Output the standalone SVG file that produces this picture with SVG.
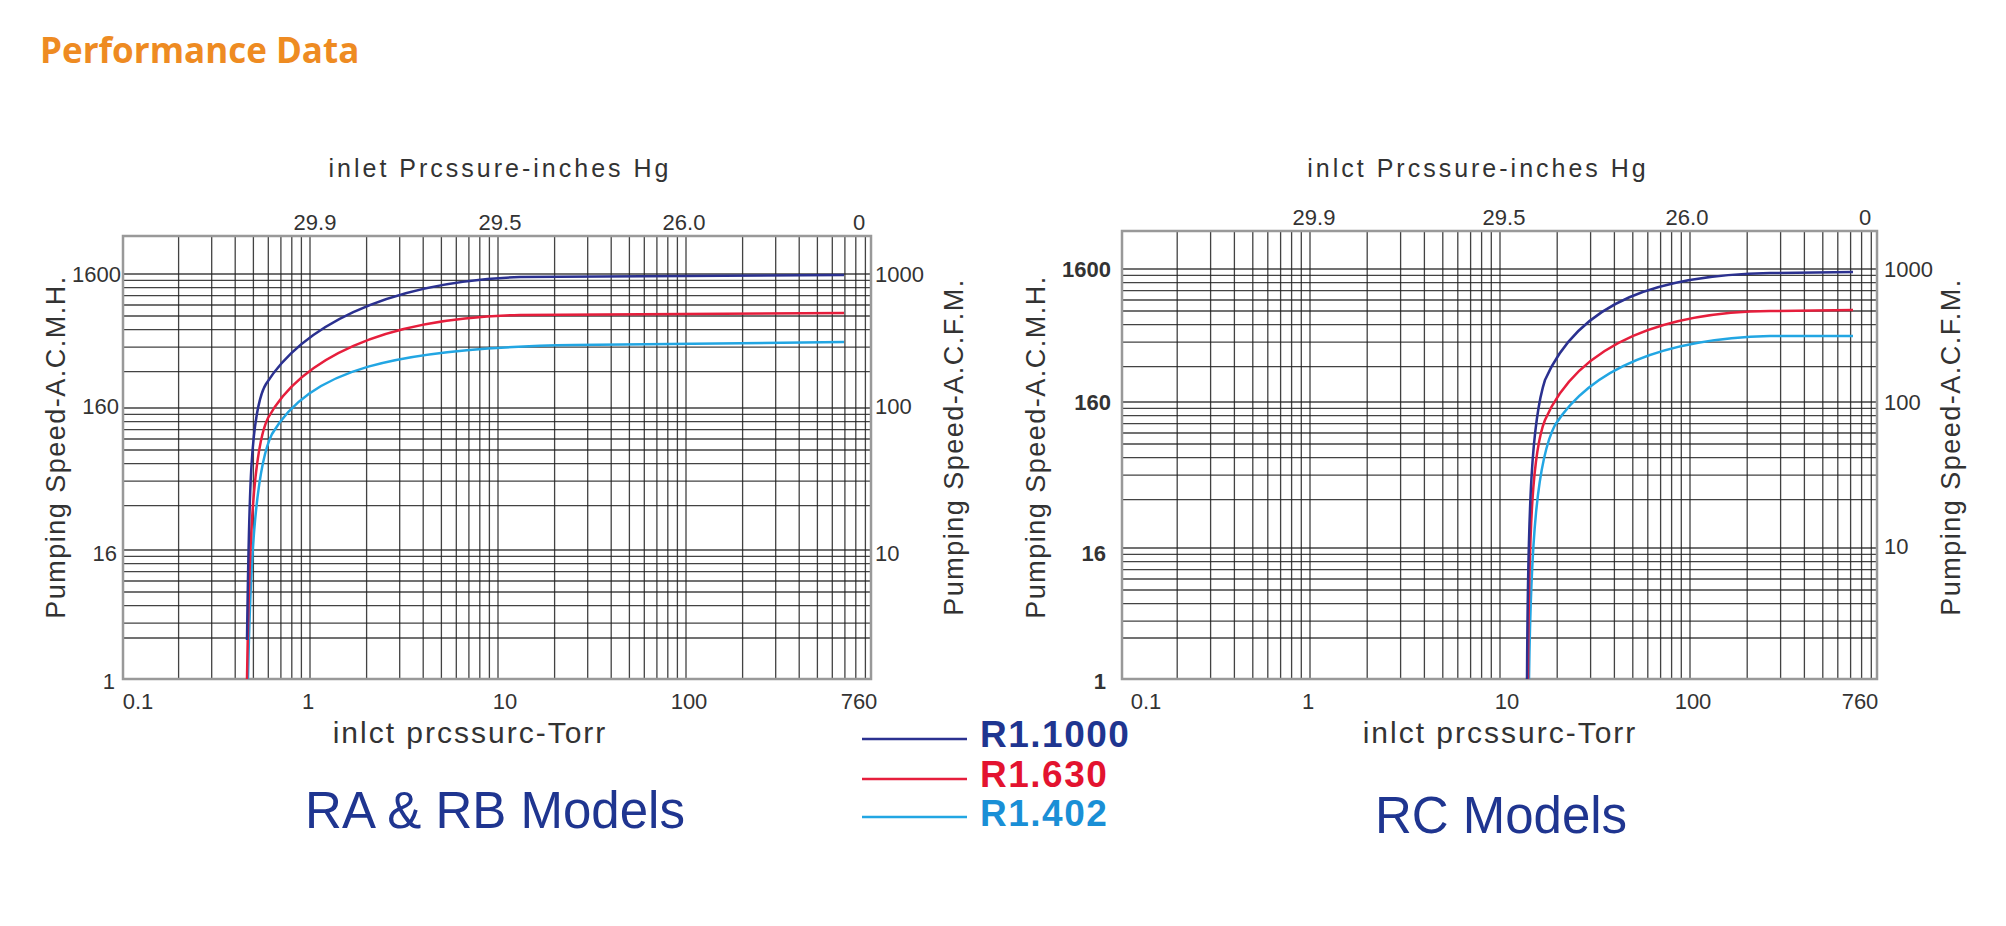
<svg xmlns="http://www.w3.org/2000/svg" width="2006" height="926" viewBox="0 0 2006 926">
<style>
.grid{stroke:#222;stroke-width:1.3;fill:none;opacity:.85}
.frame{fill:none;stroke:#999;stroke-width:2.5}
.num{font-family:"Liberation Sans",Arial,sans-serif;font-size:22px;fill:#333}
.ttl{font-family:"Liberation Sans",Arial,sans-serif;font-size:25px;fill:#333;letter-spacing:3px}
.ax{font-family:"Liberation Sans",Arial,sans-serif;font-size:27px;fill:#333;letter-spacing:1.5px}
.bt{font-family:"Liberation Sans",Arial,sans-serif;font-size:30px;fill:#333;letter-spacing:2px}
.big{font-family:"Liberation Sans",Arial,sans-serif;font-size:51px;fill:#1f3590}
.c1{fill:none;stroke:#2b3190;stroke-width:2.5}
.c2{fill:none;stroke:#e61e3c;stroke-width:2.5}
.c3{fill:none;stroke:#22a6e3;stroke-width:2.5}
.leg{font-family:"Liberation Sans",Arial,sans-serif;font-size:37px;font-weight:bold;letter-spacing:1.5px}
</style>
<rect width="2006" height="926" fill="#fff"/>
<text x="40" y="63" font-family="'Open Sans',sans-serif" font-weight="bold" font-size="35" fill="#ee8b22">Performance Data</text>

<g id="chart-left">
<path class="grid" d="M178.6,236V679M211.7,236V679M235.2,236V679M253.4,236V679M268.3,236V679M280.9,236V679M291.8,236V679M301.4,236V679M310,236V679M366.6,236V679M399.7,236V679M423.2,236V679M441.4,236V679M456.3,236V679M468.9,236V679M479.8,236V679M489.4,236V679M498,236V679M554.6,236V679M587.7,236V679M611.2,236V679M629.4,236V679M644.3,236V679M656.9,236V679M667.8,236V679M677.4,236V679M686,236V679M742.6,236V679M775.7,236V679M799.2,236V679M817.4,236V679M832.3,236V679M844.9,236V679M855.8,236V679M865.4,236V679"/>
<path class="grid" d="M123,274H871M123,280.4H871M123,287.6H871M123,295.7H871M123,305H871M123,316H871M123,329.7H871M123,347.2H871M123,371.6H871M123,408H871M123,414.4H871M123,421.6H871M123,429.7H871M123,439H871M123,450H871M123,463.7H871M123,481.2H871M123,505.6H871M123,550H871M123,556.4H871M123,563.6H871M123,571.7H871M123,581H871M123,592H871M123,605.7H871M123,623.2H871M123,638H871"/>
<rect class="frame" x="123" y="236" width="748" height="443"/>
<text class="ttl" x="500" y="177" text-anchor="middle">inlet  Prcssure-inches Hg</text>
<g class="num" text-anchor="middle">
<text x="315" y="230">29.9</text><text x="500" y="230">29.5</text><text x="684" y="230">26.0</text><text x="859" y="230">0</text>
<text x="138" y="709">0.1</text><text x="308" y="709">1</text><text x="505" y="709">10</text><text x="689" y="709">100</text><text x="859" y="709">760</text>
</g>
<g class="num" text-anchor="end">
<text x="121" y="282">1600</text><text x="119" y="414">160</text><text x="117" y="561">16</text><text x="115" y="689">1</text>
</g>
<g class="num">
<text x="875" y="282">1000</text><text x="875" y="414">100</text><text x="875" y="561">10</text>
</g>
<text class="ax" transform="translate(65,447) rotate(-90)" text-anchor="middle">Pumping Speed-A.C.M.H.</text>
<text class="ax" transform="translate(963,447) rotate(-90)" text-anchor="middle">Pumping Speed-A.C.F.M.</text>
<text class="bt" x="470" y="743" text-anchor="middle">inlct prcssurc-Torr</text>
<text class="big" x="495" y="828" text-anchor="middle">RA &amp; RB Models</text>
<path class="c3" d="M248,679 C250,580 254,470 272,434 C310,370 390,348 574,345 L844,342"/>
<path class="c2" d="M247,679 C249,560 252,450 268,418 C300,360 380,318 520,315 L844,313"/>
<path class="c1" d="M247,640 C249,500 250,410 266,384 C300,330 380,282 520,277 L844,275"/>
</g>

<g id="chart-right">
<path class="grid" d="M1177.2,231V679M1210.6,231V679M1234.4,231V679M1252.8,231V679M1267.8,231V679M1280.6,231V679M1291.6,231V679M1301.3,231V679M1310,231V679M1367.2,231V679M1400.6,231V679M1424.4,231V679M1442.8,231V679M1457.8,231V679M1470.6,231V679M1481.6,231V679M1491.3,231V679M1500,231V679M1557.2,231V679M1590.6,231V679M1614.4,231V679M1632.8,231V679M1647.8,231V679M1660.6,231V679M1671.6,231V679M1681.3,231V679M1690,231V679M1747.2,231V679M1780.6,231V679M1804.4,231V679M1822.8,231V679M1837.8,231V679M1850.6,231V679M1861.6,231V679M1871.3,231V679"/>
<path class="grid" d="M1122,269H1877M1122,275.4H1877M1122,282.6H1877M1122,290.7H1877M1122,300H1877M1122,311H1877M1122,324.7H1877M1122,342.2H1877M1122,366.6H1877M1122,402H1877M1122,408.4H1877M1122,415.6H1877M1122,423.7H1877M1122,433H1877M1122,444H1877M1122,457.7H1877M1122,475.2H1877M1122,499.6H1877M1122,548H1877M1122,554.4H1877M1122,561.6H1877M1122,569.7H1877M1122,579H1877M1122,590H1877M1122,603.7H1877M1122,621.2H1877M1122,638H1877"/>
<rect class="frame" x="1122" y="231" width="755" height="448"/>
<text class="ttl" x="1478" y="177" text-anchor="middle">inlct  Prcssure-inches Hg</text>
<g class="num" text-anchor="middle">
<text x="1314" y="225">29.9</text><text x="1504" y="225">29.5</text><text x="1687" y="225">26.0</text><text x="1865" y="225">0</text>
<text x="1146" y="709">0.1</text><text x="1308" y="709">1</text><text x="1507" y="709">10</text><text x="1693" y="709">100</text><text x="1860" y="709">760</text>
</g>
<g class="num" text-anchor="end" font-weight="bold">
<text x="1111" y="277">1600</text><text x="1111" y="410">160</text><text x="1106" y="561">16</text><text x="1106" y="689">1</text>
</g>
<g class="num">
<text x="1884" y="277">1000</text><text x="1884" y="410">100</text><text x="1884" y="554">10</text>
</g>
<text class="ax" transform="translate(1045,447) rotate(-90)" text-anchor="middle">Pumping Speed-A.C.M.H.</text>
<text class="ax" transform="translate(1960,447) rotate(-90)" text-anchor="middle">Pumping Speed-A.C.F.M.</text>
<text class="bt" x="1500" y="743" text-anchor="middle">inlct prcssurc-Torr</text>
<text class="big" x="1501" y="833" text-anchor="middle">RC Models</text>
<path class="c3" d="M1529,679 C1531,540 1537,460 1555,425 C1600,355 1690,338 1770,336 L1853,336"/>
<path class="c2" d="M1528,679 C1529,520 1533,450 1545,420 C1580,340 1670,312 1770,311 L1853,310"/>
<path class="c1" d="M1527,679 C1528,500 1532,420 1545,380 C1580,300 1660,275 1770,273 L1853,272"/>
</g>

<g id="legend">
<line class="c1" x1="862" y1="739" x2="967" y2="739"/>
<line class="c2" x1="862" y1="779" x2="967" y2="779"/>
<line class="c3" x1="862" y1="817" x2="967" y2="817"/>
<text class="leg" x="980" y="747" fill="#1f3590">R1.1000</text>
<text class="leg" x="980" y="787" fill="#e3132f">R1.630</text>
<text class="leg" x="980" y="826" fill="#1a8fd6">R1.402</text>
</g>
</svg>
